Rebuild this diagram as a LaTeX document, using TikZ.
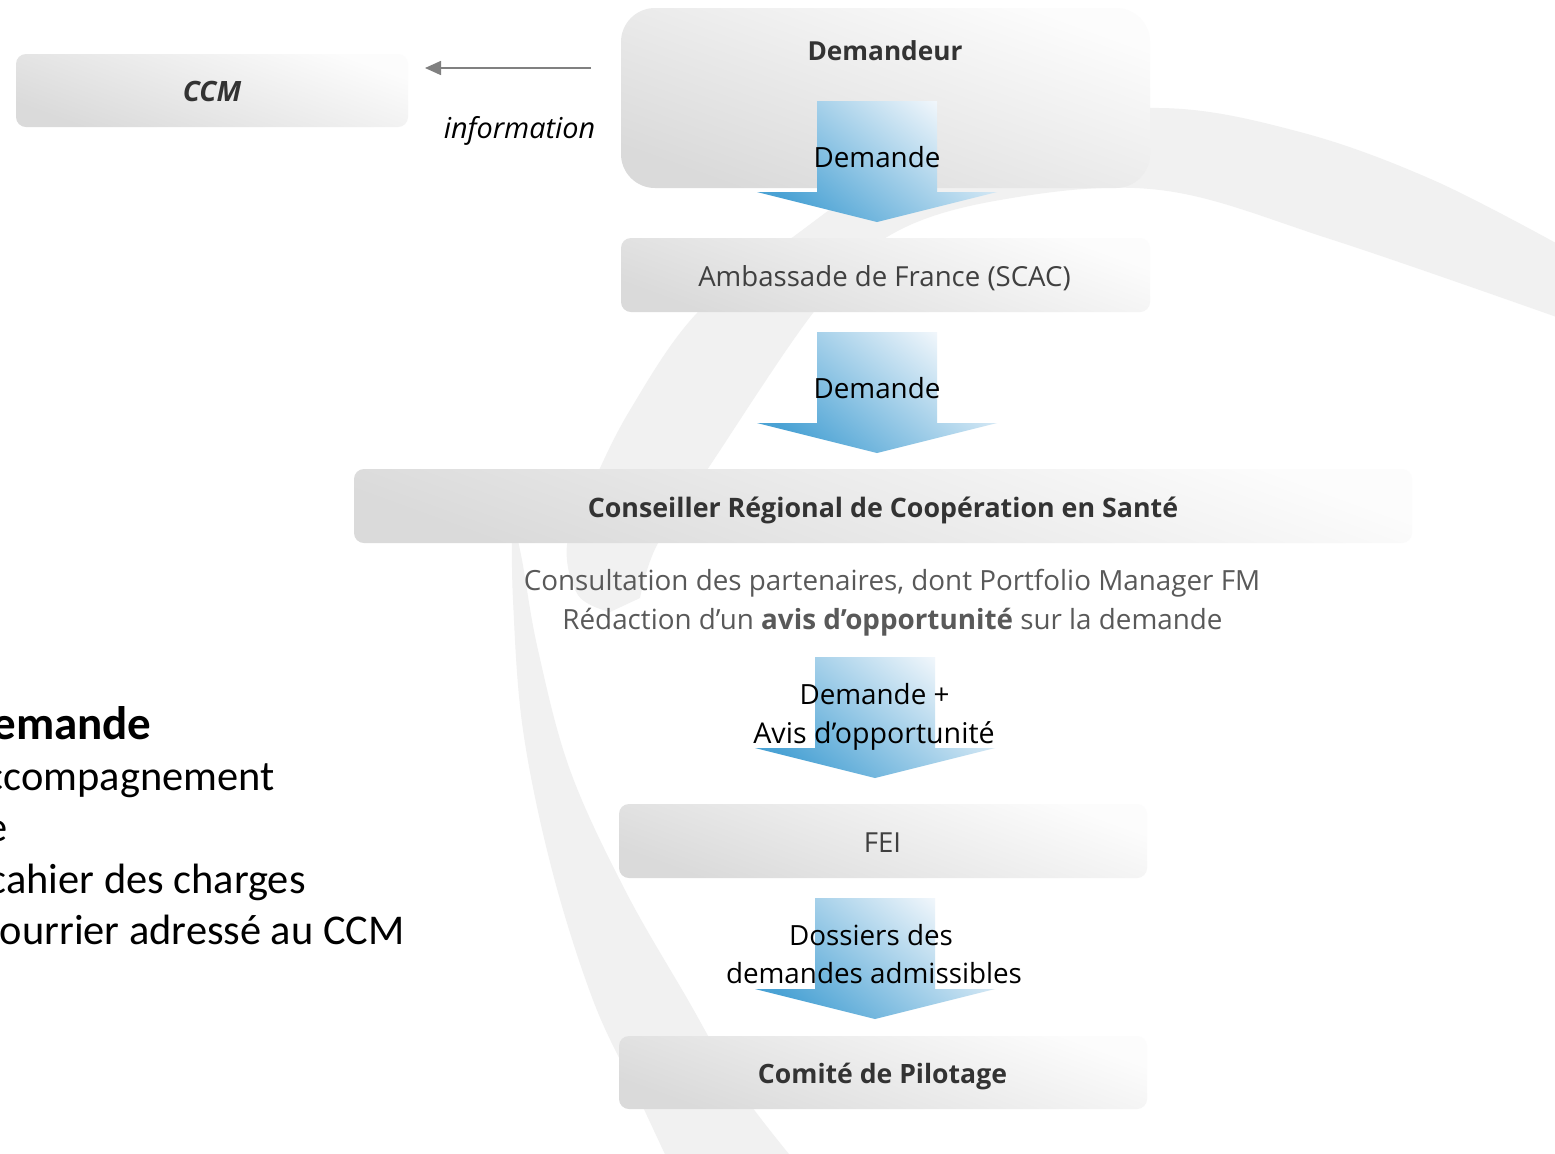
\documentclass[tikz,border=0pt]{standalone}
\usepackage{fontspec}
\setmainfont{Open Sans}
\newfontfamily\calib{Carlito}
\usetikzlibrary{arrows.meta}
\definecolor{swoosh}{HTML}{F1F1F1}
\definecolor{boxdark}{HTML}{DADADA}
\definecolor{boxlight}{HTML}{FCFCFC}
\definecolor{arrdark}{HTML}{4AA2D4}
\definecolor{arrlight}{HTML}{F4F8FC}
\definecolor{txtdark}{HTML}{333333}
\definecolor{txtmid}{HTML}{404040}
\definecolor{txtgray}{HTML}{595959}
\definecolor{infogray}{HTML}{808080}
\newcommand\blockarrow[1]{%
  \shade[top color=arrlight, bottom color=arrdark, shading angle=-40]
    (#1) ++(-60,0) -- ++(120,0) -- ++(0,91) -- ++(60,0) -- ++(-120,30)
    -- ++(-120,-30) -- ++(60,0) -- cycle;}
\tikzset{
  stagebox/.style={rectangle, inner sep=0pt, rounded corners=5pt,
    top color=boxlight, bottom color=boxdark, shading angle=-20},
  regtxt/.style={inner sep=0pt, anchor=base, text=txtmid,
    font=\fontsize{13.8}{16}\selectfont},
  boldtxt/.style={inner sep=0pt, anchor=base, text=txtdark,
    font=\fontsize{13.3}{16}\selectfont\bfseries},
  arrtxt/.style={inner sep=0pt, anchor=base, text=black,
    font=\fontsize{13.9}{16}\selectfont},
  graytxt/.style={inner sep=0pt, anchor=base, text=txtgray,
    font=\fontsize{13.9}{16}\selectfont},
  lefttxt/.style={inner sep=0pt, anchor=base east, text=black,
    font=\calib\fontsize{21.2}{25}\selectfont},
  infoarrow/.style={draw=infogray, line width=0.8pt,
    -{Triangle[length=8pt,width=7pt]}},
}
\begin{document}
\begin{tikzpicture}[x=0.5pt,y=-0.5pt]
\useasboundingbox (0,0) rectangle (1555,1153);
\clip (0,0) rectangle (1555,1153);
\fill[white] (0,0) rectangle (1555,1153);

% background swoosh
\fill[swoosh] plot[smooth, tension=0.6] coordinates {(1565,248) (1433,180) (1300,132) (1160,108) (1000,128) (880,178) (793,237) (697,313) (630,410) (590,490) (567,545) (578,595) (610,612)}
  -- plot[smooth, tension=0.6] coordinates {(640,598) (657,545) (707,470) (813,313) (887,237) (1000,200) (1160,190) (1333,240) (1565,320)} -- cycle;
\fill[swoosh] plot[smooth, tension=0.6] coordinates {(512,515) (513,600) (523,730) (552,870) (593,1000) (635,1090) (670,1165)}
  -- plot[smooth, tension=0.6] coordinates {(798,1165) (740,1090) (688,1000) (625,890) (570,770) (538,650) (522,560) (512,515)} -- cycle;

% stage boxes
\node[stagebox, minimum width=196pt, minimum height=36.5pt] (ccm) at (212,90.5) {};
\node[stagebox, minimum width=264.5pt, minimum height=90pt, rounded corners=17pt] (dem) at (885.5,98) {};
\node[stagebox, minimum width=264.5pt, minimum height=37pt] (amb) at (885.5,275) {};
\node[stagebox, minimum width=529pt, minimum height=37pt] (crcs) at (883,506) {};
\node[stagebox, minimum width=264pt, minimum height=37pt] (fei) at (883,841) {};
\node[stagebox, minimum width=264pt, minimum height=36.5pt] (cop) at (883,1072.5) {};

% information arrow
\coordinate (infofrom) at (591,68);
\coordinate (infoto) at (425,68);
\draw[infoarrow] (infofrom) -- (infoto);
\node[inner sep=0pt, anchor=base, text=black, font=\fontsize{14.4}{16}\selectfont\itshape] (info) at (519.5,138) {information};

% block arrows
\coordinate (arr1) at (877,101);
\coordinate (arr2) at (877,332);
\coordinate (arr3) at (875,657);
\coordinate (arr4) at (875,898);
\blockarrow{arr1}
\blockarrow{arr2}
\blockarrow{arr3}
\blockarrow{arr4}

% box texts
\node[inner sep=0pt, anchor=base, text=txtdark, font=\fontsize{14}{16}\selectfont\bfseries\itshape] (ccmt) at (212,101) {CCM};
\node[boldtxt, font=\fontsize{13.1}{16}\selectfont\bfseries] (demt) at (885,60) {Demandeur};
\node[regtxt] (ambt) at (884.5,286) {Ambassade de France (SCAC)};
\node[boldtxt, font=\fontsize{13.4}{16}\selectfont\bfseries] (crcst) at (883,517) {Conseiller Régional de Coopération en Santé};
\node[graytxt] (cons1) at (892,590) {Consultation des partenaires, dont Portfolio Manager FM};
\node[graytxt] (cons2) at (892.5,629) {Rédaction d’un \textbf{avis d’opportunité} sur la demande};
\node[regtxt] (feit) at (882.5,852) {FEI};
\node[boldtxt] (copt) at (882.5,1083) {Comité de Pilotage};

% arrow labels
\node[arrtxt] (a1t) at (877,167) {Demande};
\node[arrtxt] (a2t) at (877,398) {Demande};
\node[arrtxt] (a3t) at (874.5,704) {Demande +};
\node[arrtxt, font=\fontsize{14.3}{16}\selectfont] (a3u) at (874,743) {Avis d’opportunité};
\node[arrtxt] (a4t) at (871,945) {Dossiers des};
\node[arrtxt] (a4u) at (874,983) {demandes admissibles};

% left text (cut by the frame, as in the original)
\node[lefttxt, font=\calib\fontsize{23.5}{25}\selectfont\bfseries] (l1) at (152,739) {emande};
\node[lefttxt] (l2) at (275,790) {ccompagnement};
\node[lefttxt] (l3) at (8,841) {e};
\node[lefttxt] (l4) at (306,893) {cahier des charges};
\node[lefttxt] (l5) at (405,944) {ourrier adressé au CCM};
\end{tikzpicture}
\end{document}
